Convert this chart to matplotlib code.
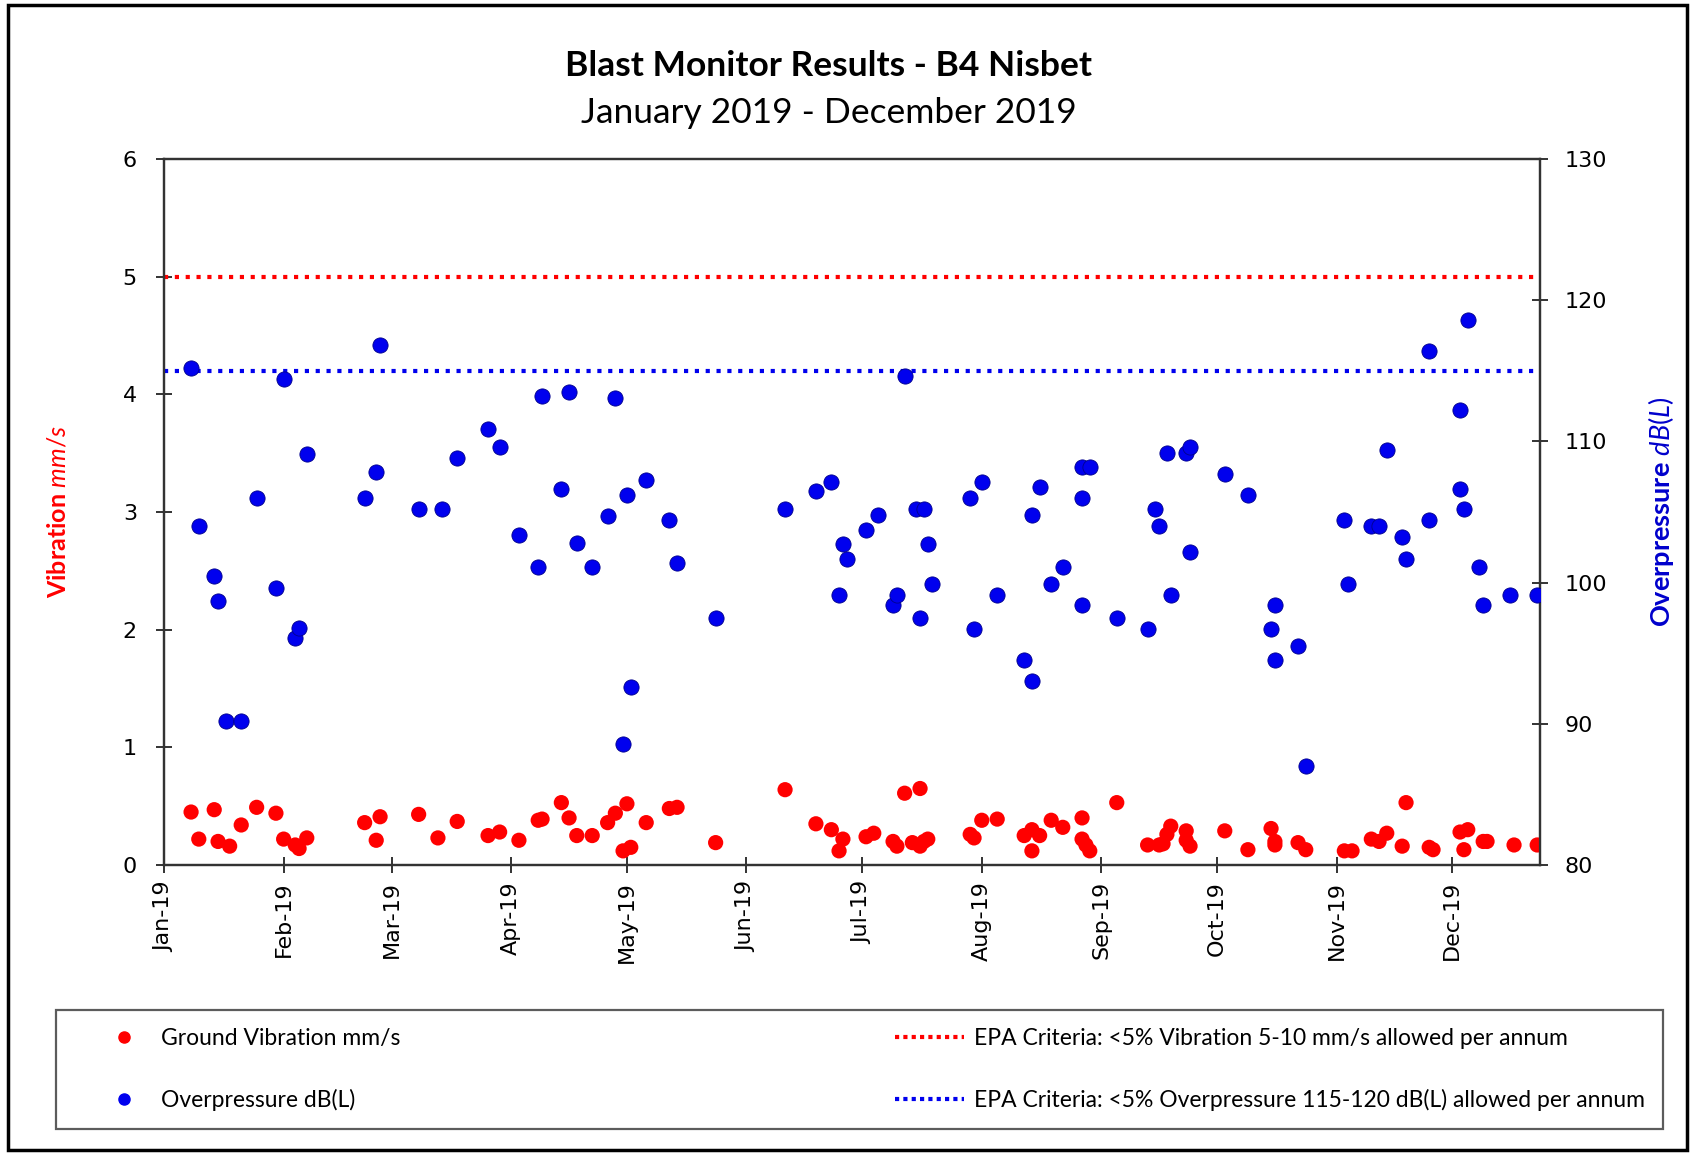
import matplotlib
matplotlib.use('Agg')
import matplotlib.pyplot as plt
import matplotlib.dates as mdates
from matplotlib.lines import Line2D
from matplotlib.legend_handler import HandlerLine2D
from matplotlib.patches import Rectangle
import pandas as pd

plt.rcParams['font.family'] = ['DejaVu Sans']
plt.rcParams['mathtext.fontset'] = 'custom'
plt.rcParams['mathtext.rm'] = 'Lato'
plt.rcParams['mathtext.bf'] = 'Lato:bold'
plt.rcParams['mathtext.it'] = 'Lato:italic'

# ground vibration (mm/s)
vib_dates = [
    "2019-01-08", "2019-01-10", "2019-01-14", "2019-01-15", "2019-01-18", "2019-01-21", "2019-01-25", "2019-01-30", "2019-02-01", "2019-02-04",
    "2019-02-05", "2019-02-07", "2019-02-22", "2019-02-25", "2019-02-26", "2019-03-08", "2019-03-13", "2019-03-18", "2019-03-26", "2019-03-29",
    "2019-04-03", "2019-04-08", "2019-04-09", "2019-04-14", "2019-04-16", "2019-04-18", "2019-04-22", "2019-04-26", "2019-04-28", "2019-04-30",
    "2019-05-01", "2019-05-02", "2019-05-06", "2019-05-12", "2019-05-14", "2019-05-24", "2019-06-11", "2019-06-19", "2019-06-23", "2019-06-25",
    "2019-06-26", "2019-07-02", "2019-07-04", "2019-07-09", "2019-07-10", "2019-07-12", "2019-07-16", "2019-07-14", "2019-07-16", "2019-07-17",
    "2019-07-18", "2019-07-29", "2019-07-30", "2019-08-01", "2019-08-05", "2019-08-12", "2019-08-14", "2019-08-14", "2019-08-16", "2019-08-19",
    "2019-08-22", "2019-08-27", "2019-08-27", "2019-08-28", "2019-08-29", "2019-09-05", "2019-09-13", "2019-09-16", "2019-09-17", "2019-09-18",
    "2019-09-19", "2019-09-23", "2019-09-23", "2019-09-24", "2019-10-03", "2019-10-09", "2019-10-15", "2019-10-16", "2019-10-16", "2019-10-22",
    "2019-10-24", "2019-11-03", "2019-11-05", "2019-11-10", "2019-11-12", "2019-11-14", "2019-11-19", "2019-11-18", "2019-11-25", "2019-11-26",
    "2019-12-03", "2019-12-04", "2019-12-05", "2019-12-09", "2019-12-10", "2019-12-17", "2019-12-23",
]
vib_values = [
    0.45, 0.22, 0.47, 0.20, 0.16, 0.34, 0.49, 0.44, 0.22, 0.17,
    0.14, 0.23, 0.36, 0.21, 0.41, 0.43, 0.23, 0.37, 0.25, 0.28,
    0.21, 0.38, 0.39, 0.53, 0.40, 0.25, 0.25, 0.36, 0.44, 0.12,
    0.52, 0.15, 0.36, 0.48, 0.49, 0.19, 0.64, 0.35, 0.30, 0.12,
    0.22, 0.24, 0.27, 0.20, 0.16, 0.61, 0.65, 0.19, 0.16, 0.20,
    0.22, 0.26, 0.23, 0.38, 0.39, 0.25, 0.12, 0.30, 0.25, 0.38,
    0.32, 0.22, 0.40, 0.17, 0.12, 0.53, 0.17, 0.17, 0.18, 0.26,
    0.33, 0.29, 0.21, 0.16, 0.29, 0.13, 0.31, 0.20, 0.17, 0.19,
    0.13, 0.12, 0.12, 0.22, 0.20, 0.27, 0.53, 0.16, 0.15, 0.13,
    0.28, 0.13, 0.30, 0.20, 0.20, 0.17, 0.17,
]

# overpressure dB(L)
op_dates = [
    "2019-01-08", "2019-01-10", "2019-01-14", "2019-01-15", "2019-01-17", "2019-01-21", "2019-01-25", "2019-01-30", "2019-02-01", "2019-02-04",
    "2019-02-05", "2019-02-07", "2019-02-22", "2019-02-25", "2019-02-26", "2019-03-08", "2019-03-14", "2019-03-18", "2019-03-26", "2019-03-29",
    "2019-04-03", "2019-04-08", "2019-04-09", "2019-04-14", "2019-04-16", "2019-04-18", "2019-04-22", "2019-04-26", "2019-04-28", "2019-04-30",
    "2019-05-01", "2019-05-02", "2019-05-06", "2019-05-12", "2019-05-14", "2019-05-24", "2019-06-11", "2019-06-19", "2019-06-23", "2019-06-25",
    "2019-06-26", "2019-06-27", "2019-07-02", "2019-07-05", "2019-07-09", "2019-07-10", "2019-07-12", "2019-07-15", "2019-07-16", "2019-07-17",
    "2019-07-18", "2019-07-19", "2019-07-29", "2019-07-30", "2019-08-01", "2019-08-05", "2019-08-12", "2019-08-14", "2019-08-14", "2019-08-16",
    "2019-08-19", "2019-08-22", "2019-08-27", "2019-08-27", "2019-08-29", "2019-08-27", "2019-09-05", "2019-09-13", "2019-09-15", "2019-09-16",
    "2019-09-18", "2019-09-19", "2019-09-23", "2019-09-24", "2019-09-24", "2019-10-03", "2019-10-09", "2019-10-15", "2019-10-16", "2019-10-16",
    "2019-10-22", "2019-10-24", "2019-11-03", "2019-11-04", "2019-11-10", "2019-11-12", "2019-11-14", "2019-11-18", "2019-11-19", "2019-11-25",
    "2019-11-25", "2019-12-03", "2019-12-03", "2019-12-04", "2019-12-05", "2019-12-08", "2019-12-09", "2019-12-16", "2019-12-23",
]
op_values = [
    115.2, 104.0, 100.5, 98.7, 90.2, 90.2, 106.0, 99.6, 114.4, 96.1,
    96.8, 109.1, 106.0, 107.8, 116.8, 105.2, 105.2, 108.8, 110.9, 109.6,
    103.4, 101.1, 113.2, 106.6, 113.5, 102.8, 101.1, 104.7, 113.1, 88.6,
    106.2, 92.6, 107.3, 104.4, 101.4, 97.5, 105.2, 106.5, 107.1, 99.1,
    102.7, 101.7, 103.7, 104.8, 98.4, 99.1, 114.6, 105.2, 97.5, 105.2,
    102.7, 99.9, 106.0, 96.7, 107.1, 99.1, 94.5, 93.0, 104.8, 106.8,
    99.9, 101.1, 106.0, 108.2, 108.2, 98.4, 97.5, 96.7, 105.2, 104.0,
    109.2, 99.1, 109.2, 102.2, 109.6, 107.7, 106.2, 96.7, 98.4, 94.5,
    95.5, 87.0, 104.4, 99.9, 104.0, 104.0, 109.4, 103.2, 101.7, 104.4,
    116.4, 112.2, 106.6, 105.2, 118.6, 101.1, 98.4, 99.1, 99.1,
]

vib_limit = 5
op_limit = 115

RED = '#FF0000'
BLUE = '#0000EE'

fig = plt.figure(figsize=(16.95, 11.55), dpi=100)

# outer frame of the chart
fig.patches.append(Rectangle((0.005, 0.004), 0.99, 0.992, transform=fig.transFigure,
                             fill=False, edgecolor='black', linewidth=2.5))

ax = fig.add_axes([0.0968, 0.2511, 0.8118, 0.6112])
ax2 = ax.twinx()

ax.scatter(pd.to_datetime(vib_dates), vib_values, s=120, color=RED, edgecolors='none', zorder=3)
ax.axhline(vib_limit, color=RED, linestyle=(0, (1, 1.6)), linewidth=3)
ax2.scatter(pd.to_datetime(op_dates), op_values, s=120, color=BLUE, edgecolors='#00008B',
            linewidths=0.6, zorder=3)
ax2.axhline(op_limit, color=BLUE, linestyle=(0, (1, 1.6)), linewidth=3)

ax.set_xlim(pd.Timestamp('2019-01-01'), pd.Timestamp('2019-12-23 18:00'))
ax.set_ylim(0, 6)
ax.set_yticks(range(0, 7))
ax2.set_ylim(80, 130)
ax2.set_yticks(range(80, 131, 10))

ax.xaxis.set_major_locator(mdates.MonthLocator())
ax.xaxis.set_major_formatter(mdates.DateFormatter('%b-%y'))
for lbl in ax.get_xticklabels():
    lbl.set_rotation(90)

for a in (ax, ax2):
    for sp in a.spines.values():
        sp.set_color('#333333')
        sp.set_linewidth(1.6)
ax.tick_params(axis='both', direction='inout', length=11, width=1.4, color='#333333')
ax.tick_params(axis='y', labelsize=16, pad=14)
ax.tick_params(axis='x', labelsize=16, pad=6)
ax2.tick_params(axis='y', direction='inout', length=11, width=1.4, color='#333333',
                labelsize=16, pad=12)

ax.set_ylabel(r'$\mathbf{Vibration}\ \mathit{mm/s}$', color=RED, fontsize=18)
ax.yaxis.set_label_coords(-0.068, 0.5)
ax2.set_ylabel(r'$\mathbf{Overpressure}\ \mathit{dB(L)}$', color='#0000CC', fontsize=19.5)
ax2.yaxis.set_label_coords(1.077, 0.5)

fig.text(0.489, 0.943, 'Blast Monitor Results - B4 Nisbet', ha='center', va='center',
         fontsize=25.5, fontweight='bold', family='Lato')
fig.text(0.489, 0.902, 'January 2019 - December 2019', ha='center', va='center',
         fontsize=25.5, family='Lato')

handles = [
    Line2D([], [], marker='o', linestyle='none', color=RED, markersize=8),
    Line2D([], [], marker='o', linestyle='none', color=BLUE, markersize=8),
    Line2D([], [], color=RED, linestyle=(0, (1, 1.0)), linewidth=3),
    Line2D([], [], color=BLUE, linestyle=(0, (1, 1.0)), linewidth=3),
]
labels = [
    'Ground Vibration mm/s',
    'Overpressure dB(L)',
    'EPA Criteria: <5% Vibration 5-10 mm/s allowed per annum',
    'EPA Criteria: <5% Overpressure 115-120 dB(L) allowed per annum',
]
hmap = {handles[0]: HandlerLine2D(xpad=0.9), handles[1]: HandlerLine2D(xpad=0.9),
        handles[2]: HandlerLine2D(xpad=0.35), handles[3]: HandlerLine2D(xpad=0.35)}
leg = fig.legend(handles, labels, ncol=2, loc='center', handler_map=hmap,
                 bbox_to_anchor=(56 / 1695, 1 - 1127 / 1155, (1663 - 56) / 1695, (1127 - 1012) / 1155),
                 mode='expand', frameon=True, fancybox=False, edgecolor='#333333',
                 prop={'family': 'Lato', 'size': 16.5}, handlelength=3.4, handletextpad=0.4,
                 labelspacing=1.75, borderpad=0.8, borderaxespad=0)
leg.get_frame().set_linewidth(1.6)

fig.savefig('out.png', dpi=100, facecolor='white')
